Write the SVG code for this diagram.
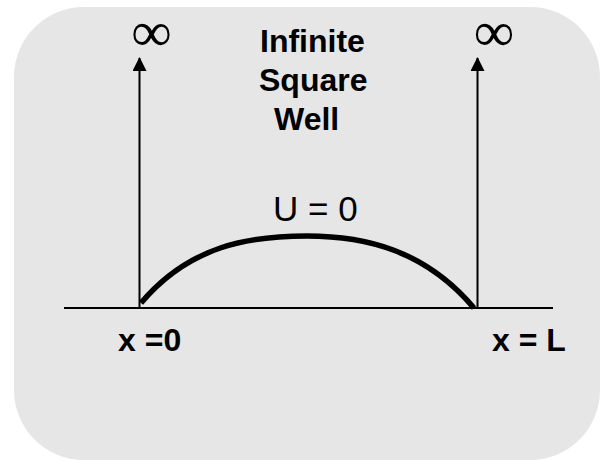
<svg xmlns="http://www.w3.org/2000/svg" width="601" height="461" viewBox="0 0 601 461">
<style>
.bold{font-family:"Liberation Sans",Arial,sans-serif;font-weight:bold;font-size:32px;fill:#000}
.reg{font-family:"Liberation Sans",Arial,sans-serif;font-size:35px;fill:#000}
.inf{font-family:"Liberation Serif","Times New Roman",serif;font-size:57px;fill:#000}
.ln{stroke:#000;stroke-width:2;fill:none}
</style>
<defs>
<marker id="ah" markerWidth="14" markerHeight="14" refX="13" refY="7" orient="auto" markerUnits="userSpaceOnUse" viewBox="0 0 14 14">
<path d="M0,0 L14,7 L0,14 Z" fill="#000"/>
</marker>
</defs>
<rect id="background" x="14" y="7" width="586" height="453" rx="70" ry="70" fill="#e6e6e6"/>
<g id="title">
<text class="bold" x="260" y="52">Infinite</text>
<text class="bold" x="259" y="91">Square</text>
<text class="bold" x="274" y="130">Well</text>
</g>
<g id="infinity-left"><text class="inf" x="151.5" y="51" text-anchor="middle">∞</text></g>
<g id="infinity-right"><text class="inf" x="494" y="51" text-anchor="middle">∞</text></g>
<g id="potential-label"><text class="reg" x="273" y="221">U = 0</text></g>
<g id="label-x0"><text class="bold" x="118" y="351">x =0</text></g>
<g id="label-xL"><text class="bold" x="492" y="351">x = L</text></g>
<g id="connectors">
<line class="ln" x1="64" y1="308" x2="553" y2="308"/>
<line class="ln" x1="139.5" y1="308" x2="139.5" y2="58" marker-end="url(#ah)"/>
<line class="ln" x1="477.5" y1="308" x2="477.5" y2="58" marker-end="url(#ah)"/>
</g>
<g id="wave">
<path d="M141,303 C190,245 250,236 307,236 C365,236 425,250 474,308" fill="none" stroke="#000" stroke-width="5.5"/>
</g>
</svg>
